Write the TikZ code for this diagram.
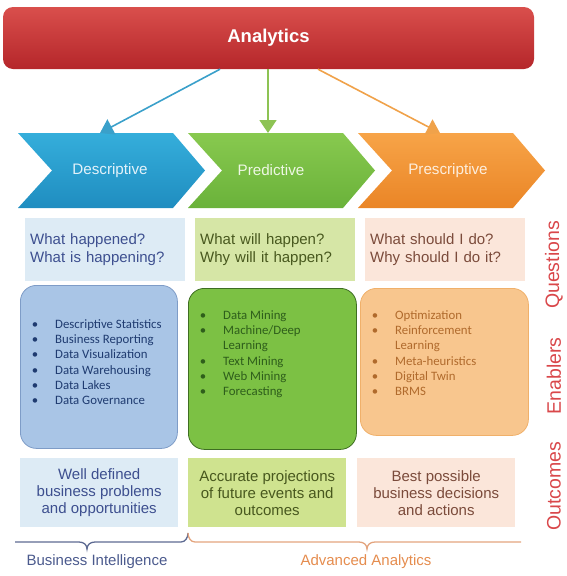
\documentclass[tikz,border=0pt]{standalone}
\usepackage{fontspec}
\setmainfont{Liberation Sans}
\newfontfamily\calibrifont{Carlito}
\usetikzlibrary{arrows.meta}

% Colours
\definecolor{barTop}{HTML}{D94F4C}
\definecolor{barBot}{HTML}{B5262A}
\definecolor{cbTop}{HTML}{35AEDB}
\definecolor{cbBot}{HTML}{1F8DC0}
\definecolor{cgTop}{HTML}{88C94F}
\definecolor{cgBot}{HTML}{6AB23A}
\definecolor{coTop}{HTML}{F7A448}
\definecolor{coBot}{HTML}{EA8526}
\definecolor{cbText}{HTML}{E3F2FA}
\definecolor{cgText}{HTML}{EEF7E4}
\definecolor{coText}{HTML}{FDEEDD}
\definecolor{lightBlue}{HTML}{DDEBF5}
\definecolor{lightGreen}{HTML}{D6E6A6}
\definecolor{lightOrange}{HTML}{FBE6DA}
\definecolor{outGreen}{HTML}{CFE38F}
\definecolor{qBlueText}{HTML}{3D4F8F}
\definecolor{qGreenText}{HTML}{48581E}
\definecolor{qOrangeText}{HTML}{7B4B3B}
\definecolor{eBlue}{HTML}{A9C5E6}
\definecolor{eBlueLine}{HTML}{7E9CC7}
\definecolor{eGreen}{HTML}{7CC144}
\definecolor{eGreenLine}{HTML}{3E6E22}
\definecolor{eOrange}{HTML}{F8C68E}
\definecolor{eOrangeLine}{HTML}{F0B06A}
\definecolor{eBlueText}{HTML}{1F3B70}
\definecolor{eGreenText}{HTML}{2E5E1B}
\definecolor{eOrangeText}{HTML}{B06A2C}
\definecolor{sideRed}{HTML}{D9474A}
\definecolor{arrBlue}{HTML}{3AA0CA}
\definecolor{arrGreen}{HTML}{8DC354}
\definecolor{arrOrange}{HTML}{F0A24A}
\definecolor{braceBlue}{HTML}{5D6A92}
\definecolor{braceOrange}{HTML}{E3A47E}
\definecolor{biText}{HTML}{4B5A8D}
\definecolor{aaText}{HTML}{E58C4E}

\begin{document}
\begin{tikzpicture}[
		x=1pt, y=-1pt,
		bar/.style={rounded corners=10pt, top color=barTop, bottom color=barBot,
				minimum width=531pt, minimum height=62pt, text=white,
				font=\fontsize{18.5}{20}\selectfont\bfseries},
		link/.style={line width=1.6pt, -{Triangle[length=13pt,width=17pt]}},
		chevlabel/.style={font=\fontsize{15.2}{17}\selectfont},
		qbox/.style={anchor=north west, minimum width=160pt, minimum height=63pt,
				inner sep=5pt, text width=150pt, align=left,
				font=\fontsize{15}{18}\selectfont},
		enabler/.style={anchor=north west, draw, line width=0.8pt, rounded corners=16pt},
		dot/.style={anchor=base, inner sep=0pt, font=\calibrifont\fontsize{12.8}{15}\selectfont},
		item/.style={anchor=base west, inner sep=0pt, font=\calibrifont\fontsize{12.8}{15}\selectfont},
		outbox/.style={anchor=north west, minimum width=158pt, minimum height=69pt,
				inner sep=2pt, align=center, font=\fontsize{15}{17}\selectfont},
		side/.style={rotate=90, inner sep=0pt, text=sideRed, font=\fontsize{19.5}{21}\selectfont},
		brace/.style={line width=1.3pt},
		group/.style={font=\fontsize{15}{17}\selectfont}
	]
	\useasboundingbox (0,0) rectangle (567,576);

	% Top bar
	\node[bar] (analytics) at (268.5,38) {Analytics};

	% Chevrons
	\foreach \x/\cx/\name/\top/\bot/\tc/\txt in {
			18/110/desc/cbTop/cbBot/cbText/Descriptive,
			188/271/pred/cgTop/cgBot/cgText/Predictive,
			358/448/presc/coTop/coBot/coText/Prescriptive
		} {
			\shade[top color=\top, bottom color=\bot] (\x,133) -- ++(155,0) -- ++(32,37.5)
				-- ++(-32,37.5) -- ++(-155,0) -- ++(34,-37.5) -- cycle;
			\node[chevlabel, text=\tc] (\name) at (\cx,170.5) {\txt};
		}

	% Arrows from the bar
	\coordinate (desc-top) at (100,133);
	\coordinate (pred-top) at (268,133);
	\coordinate (presc-top) at (440,133);
	\draw[link, arrBlue] ([xshift=-48.5pt]analytics.south) -- (desc-top);
	\draw[link, arrGreen] ([xshift=-0.5pt]analytics.south) -- (pred-top);
	\draw[link, arrOrange] ([xshift=49.5pt]analytics.south) -- (presc-top);

	% Questions
	\node[qbox, fill=lightBlue, text=qBlueText] (qdesc) at (25,218)
		{What happened?\\What is happening?};
	\node[qbox, fill=lightGreen, text=qGreenText] (qpred) at (195,218)
		{What will happen?\\Why will it happen?};
	\node[qbox, fill=lightOrange, text=qOrangeText] (qpresc) at (365,218)
		{What should I do?\\Why should I do it?};

	% Enablers
	\node[enabler, fill=eBlue, draw=eBlueLine, minimum width=157pt, minimum height=163pt] (edesc) at (20,285) {};
	\node[enabler, fill=eGreen, draw=eGreenLine, minimum width=168pt, minimum height=161pt] (epred) at (188,288) {};
	\node[enabler, fill=eOrange, draw=eOrangeLine, minimum width=168pt, minimum height=147pt] (epresc) at (360,288) {};

	\foreach \txt [count=\i from 0] in {
			Descriptive Statistics,
			Business Reporting,
			Data Visualization,
			Data Warehousing,
			Data Lakes,
			Data Governance
		} {
			\pgfmathsetmacro{\y}{328.3 + \i*15.3}
			\node[dot, text=eBlueText] (bd\i) at (35,\y) {\textbullet};
			\node[item, text=eBlueText] (bi\i) at (55,\y) {\txt};
		}

	\foreach \txt/\bul [count=\i from 0] in {
			Data Mining/1,
			{Machine/Deep}/1,
			Learning/0,
			Text Mining/1,
			Web Mining/1,
			Forecasting/1
		} {
			\pgfmathsetmacro{\y}{319.3 + \i*15.3}
			\ifnum\bul=1 \node[dot, text=eGreenText] (gd\i) at (203,\y) {\textbullet};\fi
			\node[item, text=eGreenText] (gi\i) at (223,\y) {\txt};
		}

	\foreach \txt/\bul [count=\i from 0] in {
			Optimization/1,
			Reinforcement/1,
			Learning/0,
			Meta-heuristics/1,
			Digital Twin/1,
			BRMS/1
		} {
			\pgfmathsetmacro{\y}{319.3 + \i*15.3}
			\ifnum\bul=1 \node[dot, text=eOrangeText] (od\i) at (375,\y) {\textbullet};\fi
			\node[item, text=eOrangeText] (oi\i) at (395,\y) {\txt};
		}

	% Outcomes
	\node[outbox, fill=lightBlue, text=qBlueText] (odesc) at (20,458)
		{Well defined\\business problems\\and opportunities};
	\node[outbox, fill=outGreen, text=qGreenText] (opred) at (188,458)
		{Accurate projections\\of future events and\\outcomes};
	\node[outbox, fill=lightOrange, text=qOrangeText] (opresc) at (357,458)
		{Best possible\\business decisions\\and actions};

	% Row labels
	\node[side] (lquest) at (554,265) {Questions};
	\node[side] (lenab) at (554,376) {Enablers};
	\node[side] (lout) at (554,486) {Outcomes};

	% Braces
	\draw[brace, braceBlue] (15,542) -- (79,542) .. controls (84,542) and (87,545) .. (87,549)
		.. controls (87,545) and (90,542) .. (95,542) -- (181,542)
		.. controls (185,542) and (188,538) .. (188,533);
	\draw[brace, braceOrange] (188,533) .. controls (188,538) and (191,542) .. (195,542)
		-- (359,542) .. controls (364,542) and (367,545) .. (367,549)
		.. controls (367,545) and (370,542) .. (375,542) -- (521,542);

	\node[group, text=biText] (bi) at (97,562) {Business Intelligence};
	\node[group, text=aaText] (aa) at (366,562) {Advanced Analytics};

\end{tikzpicture}
\end{document}
